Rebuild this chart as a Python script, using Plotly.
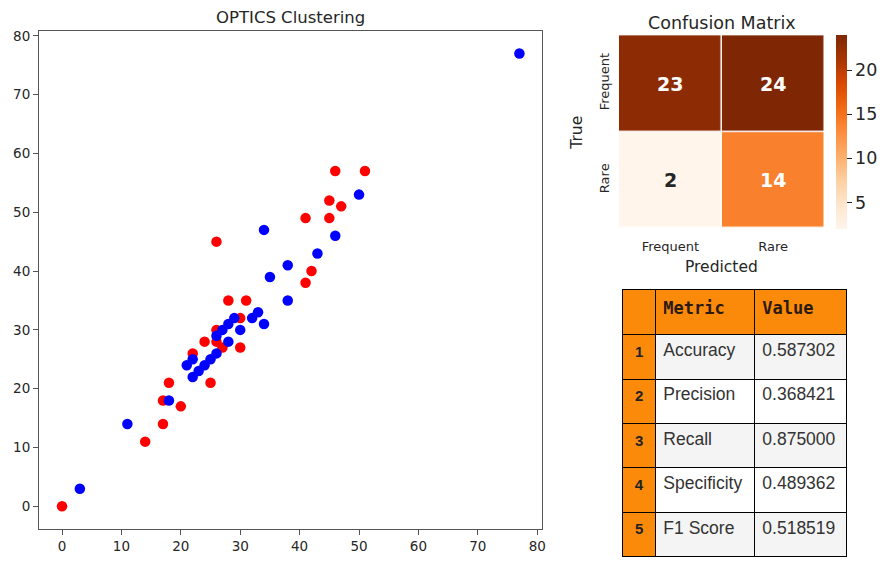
import plotly.graph_objects as go

# the page body keeps its default 8px margin; the figure starts 8px in and runs to the window edge
OFF = 8
W, H = 893 - OFF, 570 - 2 * OFF

# scatter data: OPTICS clusters
red_x = [0, 14, 17, 17, 18, 20, 22, 24, 25, 26, 26, 27, 28, 31, 30, 30, 26, 41, 41, 42, 45, 45, 46, 47, 51]
red_y = [0, 11, 14, 18, 21, 17, 26, 28, 21, 30, 28, 27, 35, 35, 32, 27, 45, 49, 38, 40, 52, 49, 57, 51, 57]
blue_x = [3, 11, 18, 21, 22, 22, 23, 24, 25, 26, 26, 27, 28, 28, 29, 30, 32, 33, 34, 34, 35, 38, 38, 43, 46, 50, 77]
blue_y = [3, 14, 18, 24, 25, 22, 23, 24, 25, 26, 29, 30, 28, 31, 32, 30, 32, 33, 31, 47, 39, 41, 35, 43, 46, 53, 77]

# confusion matrix
cm_labels = ["Frequent", "Rare"]
cm_values = [[23, 24], [2, 14]]

# metrics table
metric_idx = ["1", "2", "3", "4", "5"]
metric_names = ["Accuracy", "Precision", "Recall", "Specificity", "F1 Score"]
metric_values = [0.587302, 0.368421, 0.875000, 0.489362, 0.518519]


def px_x(p):
    # window pixel -> paper fraction
    return (p - OFF) / W


def px_y(p):
    return 1 - (p - OFF) / H


TXT = "#262626"
ORANGE = "#fc8a0a"

fig = go.Figure()

fig.add_trace(go.Scatter(x=red_x, y=red_y, mode="markers",
                         marker=dict(color="#ff0000", size=10.5),
                         xaxis="x", yaxis="y", showlegend=False))
fig.add_trace(go.Scatter(x=blue_x, y=blue_y, mode="markers",
                         marker=dict(color="#0000ff", size=10.5),
                         xaxis="x", yaxis="y", showlegend=False))

# colorbar pads set to 0 so it does not push the right margin
fig.add_trace(go.Heatmap(
    z=cm_values, x=cm_labels, y=cm_labels,
    colorscale="Oranges", xgap=1.5, ygap=1.5,
    xaxis="x2", yaxis="y2",
    colorbar=dict(x=px_x(840), xanchor="left", y=px_y(129.5), yanchor="middle",
                  len=194.4, lenmode="pixels", thickness=11, outlinewidth=0,
                  xpad=0, ypad=0,
                  tickvals=[5, 10, 15, 20], ticks="outside", ticklen=5,
                  tickcolor=TXT, tickfont=dict(family="DejaVu Sans", size=17.5, color=TXT)),
    hoverinfo="z"))

zmax = max(max(r) for r in cm_values)
zmin = min(min(r) for r in cm_values)
annotations = []
for i, row in enumerate(cm_values):
    for j, v in enumerate(row):
        col = "white" if v > (zmin + zmax) / 2 - 3 else "#262626"
        annotations.append(dict(x=cm_labels[j], y=cm_labels[i], xref="x2", yref="y2",
                                text="<b>%d</b>" % v, showarrow=False,
                                font=dict(family="DejaVu Sans", size=19, color=col)))

fig.add_trace(go.Table(
    domain=dict(x=[px_x(625.7), px_x(851)], y=[px_y(558), px_y(288.3)]),
    columnwidth=[32.6, 99.4, 93],
    header=dict(values=["", "<b>Metric</b>", "<b>Value</b>"],
                fill_color=ORANGE, line=dict(color="black", width=1),
                align=["center", "left", "left"], height=45,
                font=dict(family="DejaVu Sans Mono", size=17, color="#2a1a10")),
    cells=dict(values=[["<b>%s</b>" % s for s in metric_idx], metric_names,
                       ["%.6f" % v for v in metric_values]],
               fill_color=[[ORANGE] * 5,
                           ["#f4f4f4", "white", "#f4f4f4", "white", "#f4f4f4"],
                           ["#f4f4f4", "white", "#f4f4f4", "white", "#f4f4f4"]],
               line=dict(color="black", width=1),
               align=["center", "left", "left"], height=44.4,
               font=dict(family=["Liberation Sans", "Liberation Sans", "Liberation Sans"],
                         size=[15, 17.5, 17.5], color=["#222", "#333", "#333"]))))


def label(text, x, y, size, angle=0):
    return dict(text=text, x=px_x(x), y=px_y(y), xref="paper", yref="paper",
                xanchor="center", yanchor="middle", showarrow=False, textangle=angle,
                font=dict(family="DejaVu Sans", size=size, color=TXT))


annotations += [
    label("OPTICS Clustering", 292, 15, 16.5),
    label("Confusion Matrix", 725, 20, 17.5),
    label("Predicted", 725, 265, 15.5),
    label("True", 580, 130, 15.5, -90),
]

axis_common = dict(showgrid=False, zeroline=False, showline=True, mirror=True,
                   linecolor="#555", linewidth=1.4, ticks="outside", ticklen=5,
                   tickcolor="#555", tickfont=dict(family="DejaVu Sans", size=13.5, color=TXT),
                   range=[-3.85, 80.85], dtick=10)

fig.update_layout(
    width=W, height=H, margin=dict(l=0, r=0, t=0, b=0),
    paper_bgcolor="white", plot_bgcolor="white",
    xaxis=dict(domain=[px_x(39.3), px_x(544.7)], anchor="y", **axis_common),
    yaxis=dict(domain=[px_y(528.8), px_y(27.9)], anchor="x", **axis_common),
    xaxis2=dict(domain=[px_x(621.7), px_x(828.3)], anchor="y2", showgrid=False,
                zeroline=False, ticks="", ticklabelstandoff=8,
                tickfont=dict(family="DejaVu Sans", size=13, color=TXT)),
    yaxis2=dict(domain=[px_y(226.7), px_y(32.3)], anchor="x2", showgrid=False,
                zeroline=False, ticks="", autorange="reversed", tickangle=-90,
                ticklabelstandoff=6,
                tickfont=dict(family="DejaVu Sans", size=13, color=TXT)),
    annotations=annotations,
)

fig.write_html("out.html")
